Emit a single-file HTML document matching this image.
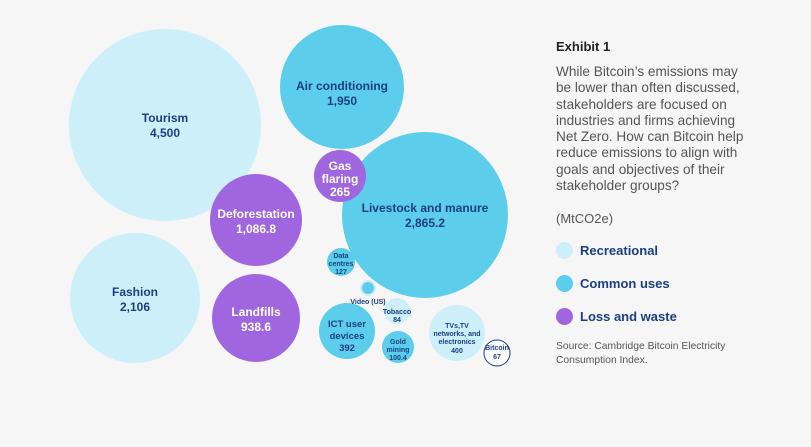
<!DOCTYPE html>
<html><head><meta charset="utf-8"><style>
body{margin:0;width:811px;height:447px;background:#f6f6f6;overflow:hidden;font-family:"Liberation Sans",sans-serif}
svg{position:absolute;left:0;top:0}
.p{position:absolute;left:556px;top:39px;width:250px;color:#444}
h1{font-size:13px;font-weight:bold;color:#222;margin:0 0 10px}
.t{font-size:13.6px;line-height:16.3px;color:#555;white-space:nowrap}
.m{font-size:13px;margin-top:17px;color:#555}
.l{display:flex;align-items:center;margin-top:15px;height:18px;font-size:13px;font-weight:bold;color:#1c3f82}
.l i{width:17px;height:17px;border-radius:50%;margin-right:7px;display:inline-block}
.s{font-size:10.3px;color:#555;margin-top:15px;line-height:14px;white-space:nowrap}
</style></head><body>
<svg width="811" height="447" font-family="Liberation Sans, sans-serif" font-weight="bold" fill="#1c3f82" text-anchor="middle">
<circle cx="165" cy="125" r="96" fill="#cdeffa"/>
<circle cx="342" cy="87" r="62" fill="#5dcdec"/>
<circle cx="425" cy="215" r="83" fill="#5dcdec"/>
<circle cx="135" cy="298" r="65" fill="#cdeffa"/>
<circle cx="256" cy="220" r="46" fill="#a066e0"/>
<circle cx="256" cy="318" r="44" fill="#a066e0"/>
<circle cx="340" cy="176" r="26" fill="#a066e0"/>
<circle cx="341" cy="262" r="14" fill="#5dcdec"/>
<circle cx="368" cy="288" r="7" fill="#5dcdec" stroke="#cdeffa" stroke-width="2"/>
<circle cx="397" cy="311" r="13" fill="#cdeffa"/>
<circle cx="347" cy="331" r="28" fill="#5dcdec"/>
<circle cx="398" cy="347" r="16" fill="#5dcdec"/>
<circle cx="457" cy="333" r="28" fill="#cdeffa"/>
<circle cx="497" cy="353" r="13" fill="#fff" stroke="#1c3f82" stroke-width="1"/>
<g font-size="12"><text x="165" y="122">Tourism</text><text x="165" y="137">4,500</text>
<text x="342" y="90">Air conditioning</text><text x="342" y="105">1,950</text>
<text x="425" y="212">Livestock and manure</text><text x="425" y="227">2,865.2</text>
<text x="135" y="296">Fashion</text><text x="135" y="311">2,106</text></g>
<g font-size="12" fill="#fff"><text x="256" y="218">Deforestation</text><text x="256" y="233">1,086.8</text>
<text x="256" y="316">Landfills</text><text x="256" y="331">938.6</text>
<text x="340" y="170">Gas</text><text x="340" y="183">flaring</text><text x="340" y="196">265</text></g>
<g font-size="7"><text x="341" y="258">Data</text><text x="341" y="266">centres</text><text x="341" y="274">127</text>
<text x="368" y="304">Video (US)</text><text x="397" y="314">Tobacco</text><text x="397" y="322">84</text>
<text x="398" y="344">Gold</text><text x="398" y="352">mining</text><text x="398" y="360">100.4</text>
<text x="457" y="328">TVs,TV</text><text x="457" y="336">networks, and</text><text x="457" y="344">electronics</text><text x="457" y="353">400</text>
<text x="497" y="350">Bitcoin</text><text x="497" y="359">67</text></g>
<g font-size="9.5"><text x="347" y="327">ICT user</text><text x="347" y="339">devices</text><text x="347" y="351">392</text></g>
</svg>
<div class="p">
<h1>Exhibit 1</h1>
<div class="t">While Bitcoin’s emissions may<br>be lower than often discussed,<br>stakeholders are focused on<br>industries and firms achieving<br>Net Zero. How can Bitcoin help<br>reduce emissions to align with<br>goals and objectives of their<br>stakeholder groups?</div>
<div class="m">(MtCO2e)</div>
<div class="l"><i style="background:#cdeffa"></i>Recreational</div>
<div class="l"><i style="background:#5dcdec"></i>Common uses</div>
<div class="l"><i style="background:#a066e0"></i>Loss and waste</div>
<div class="s">Source: Cambridge Bitcoin Electricity<br>Consumption Index.</div>
</div>
</body></html>
